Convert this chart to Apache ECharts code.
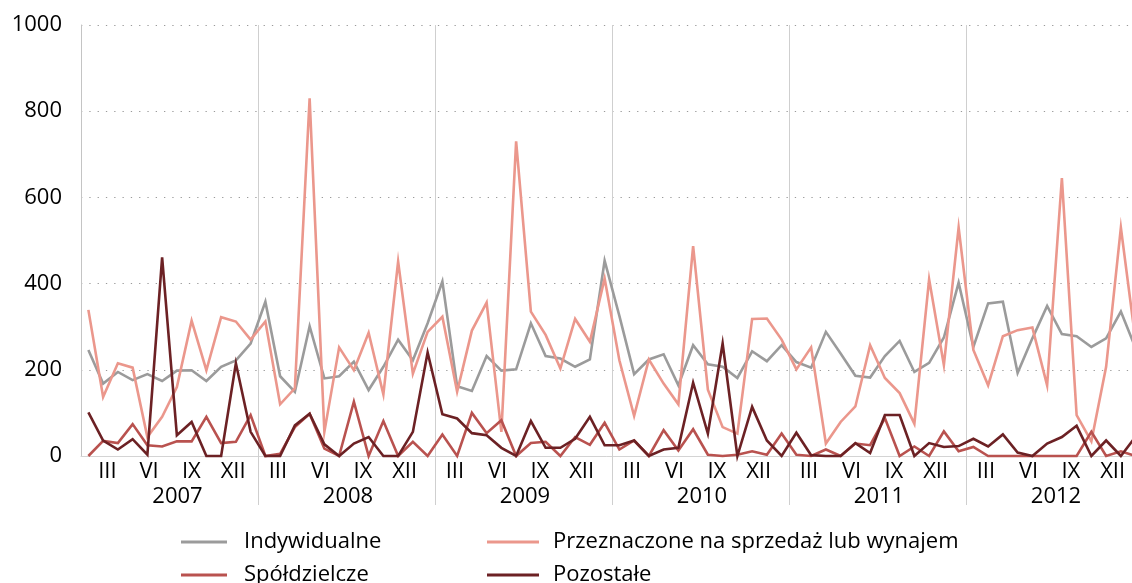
<!DOCTYPE html>
<html>
<head>
<meta charset="utf-8">
<script src="https://cdn.jsdelivr.net/npm/echarts@6/dist/echarts.min.js"></script>
<style>
html,body{margin:0;padding:0;background:#fff;}
#chart{width:1132px;height:583px;}
</style>
</head>
<body>
<div id="chart"></div>
<script>
// ---- data ----
const years = ['2007', '2008', '2009', '2010', '2011', '2012'];
const months = ['I', 'II', 'III', 'IV', 'V', 'VI', 'VII', 'VIII', 'IX', 'X', 'XI', 'XII'];
const yTicks = [0, 200, 400, 600, 800, 1000];

const indywidualne = [
  246, 168, 195, 176, 190, 174, 198, 199, 174, 207, 222, 261,
  358, 185, 149, 301, 180, 185, 219, 153, 207, 270, 222, 308,
  405, 162, 151, 232, 198, 201, 308, 232, 226, 207, 224, 453,
  325, 190, 224, 236, 164, 257, 213, 207, 181, 243, 220, 257,
  218, 205, 288, 238, 186, 182, 232, 267, 195, 216, 275, 402,
  253, 354, 358, 193, 273, 348, 283, 278, 253, 273, 335, 250
];
const przeznaczone = [
  339, 137, 215, 205, 44, 91, 160, 314, 199, 322, 312, 270,
  312, 120, 157, 830, 56, 252, 199, 286, 143, 451, 191, 288,
  323, 149, 291, 356, 56, 730, 335, 281, 203, 318, 265, 412,
  222, 93, 224, 168, 120, 487, 154, 67, 52, 318, 319, 270,
  201, 252, 29, 79, 115, 257, 181, 146, 75, 410, 211, 530,
  246, 164, 278, 292, 298, 164, 645, 95, 34, 207, 530, 265
];
const spoldzielcze = [
  0, 35, 30, 74, 25, 22, 34, 34, 91, 30, 33, 95,
  0, 5, 67, 98, 17, 0, 126, 0, 81, 0, 33, 0,
  50, 0, 100, 53, 83, 0, 30, 33, 0, 44, 26, 77,
  15, 36, 0, 60, 13, 62, 3, 0, 3, 11, 3, 52,
  3, 0, 15, 0, 29, 25, 88, 0, 22, 0, 57, 11,
  21, 0, 0, 0, 0, 0, 0, 0, 56, 0, 11, 0
];
const pozostale = [
  101, 36, 15, 39, 3, 461, 48, 79, 0, 0, 215, 56,
  0, 0, 71, 98, 27, 0, 29, 44, 0, 0, 56, 240,
  97, 87, 53, 48, 19, 0, 81, 19, 19, 40, 91, 25,
  25, 36, 0, 15, 19, 170, 52, 261, 0, 114, 36, 0,
  54, 2, 0, 0, 30, 7, 95, 95, 0, 30, 21, 23,
  40, 22, 50, 8, 0, 29, 44, 70, 0, 36, 0, 45
];
const seriesNames = ['Indywidualne', 'Przeznaczone na sprzedaż lub wynajem', 'Spółdzielcze', 'Pozostałe'];
const seriesColors = ['#9b9b9b', '#eb978c', '#b9524f', '#6c2124'];

// ---- chart ----
const categories = [];
years.forEach(y => months.forEach(m => categories.push(m + ' ' + y)));

const FONT = '"Open Sans", "DejaVu Sans", sans-serif';
const labelShownMonths = [2, 5, 8, 11];
const shiftRegular = {2: 34, 5: 37, 8: 41, 11: 46};
const shiftFirst = {2: 21, 5: 26, 8: 30, 11: 35};
const rich = {};
labelShownMonths.forEach(k => {
  rich['m' + k] = {fontFamily: FONT, fontSize: 22, color: '#000', padding: [0, shiftRegular[k], 0, 0]};
  rich['f' + k] = {fontFamily: FONT, fontSize: 22, color: '#000', padding: [0, shiftFirst[k], 0, 0]};
});

const chart = echarts.init(document.getElementById('chart'), null, {renderer: 'canvas'});
const allSeries = [indywidualne, przeznaczone, spoldzielcze, pozostale];

const legendText = {fontFamily: FONT, fontSize: 22, color: '#000', lineHeight: 22};

chart.setOption({
  animation: false,
  backgroundColor: '#ffffff',
  textStyle: {fontFamily: FONT},
  grid: {left: 81, top: 25, width: 1062, height: 431, containLabel: false, outerBoundsMode: 'none'},
  legend: [
    {
      data: [seriesNames[0], seriesNames[2]],
      orient: 'vertical', left: 181, top: 531, width: 260, height: 80, padding: 0, itemGap: 11,
      icon: 'rect', itemWidth: 46, itemHeight: 3,
      textStyle: Object.assign({padding: [0, 0, 0, 12]}, legendText)
    },
    {
      data: [seriesNames[1], seriesNames[3]],
      orient: 'vertical', left: 487, top: 531, width: 520, height: 80, padding: 0, itemGap: 11,
      icon: 'rect', itemWidth: 52, itemHeight: 3,
      textStyle: Object.assign({padding: [0, 0, 0, 9]}, legendText)
    }
  ],
  xAxis: [
    {
      type: 'category',
      data: categories,
      boundaryGap: true,
      position: 'bottom',
      axisLine: {show: true, lineStyle: {color: '#d4d4d4', width: 1}},
      axisTick: {show: false},
      splitLine: {show: false},
      axisLabel: {
        interval: (idx) => labelShownMonths.indexOf(idx % 12) >= 0,
        margin: 5,
        hideOverlap: false,
        formatter: (val, idx) => {
          const k = idx % 12;
          return '{' + (idx < 12 ? 'f' : 'm') + k + '|' + months[k] + '}';
        },
        rich: rich
      }
    },
    {
      type: 'category',
      data: years,
      boundaryGap: true,
      position: 'bottom',
      offset: 0,
      axisLine: {show: false},
      axisTick: {show: true, interval: (i) => i > 0, length: 49, lineStyle: {color: '#cfcfcf', width: 1}},
      splitLine: {show: true, interval: 0, lineStyle: {color: '#cfcfcf', width: 1}},
      axisLabel: {
        interval: 0, margin: 30, hideOverlap: false,
        formatter: (val, idx) => '{' + (idx === 0 ? 'a' : 'b') + '|' + val + '}',
        rich: {
          a: {fontFamily: FONT, fontSize: 22, color: '#000', padding: [0, 0, 0, 16]},
          b: {fontFamily: FONT, fontSize: 22, color: '#000', padding: [0, 0, 0, 3]}
        }
      }
    }
  ],
  yAxis: {
    type: 'value',
    min: yTicks[0],
    max: yTicks[yTicks.length - 1],
    interval: yTicks[1] - yTicks[0],
    axisLine: {show: true, lineStyle: {color: '#c4c4c4', width: 1}},
    axisTick: {show: false},
    splitLine: {show: true, lineStyle: {color: '#9a9a9a', width: 1, type: [1.3, 7]}},
    axisLabel: {fontFamily: FONT, fontSize: 22, color: '#000', margin: 19, formatter: (v) => String(v)}
  },
  series: allSeries.map((d, i) => ({
    name: seriesNames[i],
    type: 'line',
    xAxisIndex: 0,
    data: d,
    symbol: 'none',
    showSymbol: false,
    smooth: false,
    color: seriesColors[i],
    lineStyle: {color: seriesColors[i], width: 2.6, join: 'miter'},
    clip: false,
    z: 2 + i
  }))
});
</script>
</body>
</html>
